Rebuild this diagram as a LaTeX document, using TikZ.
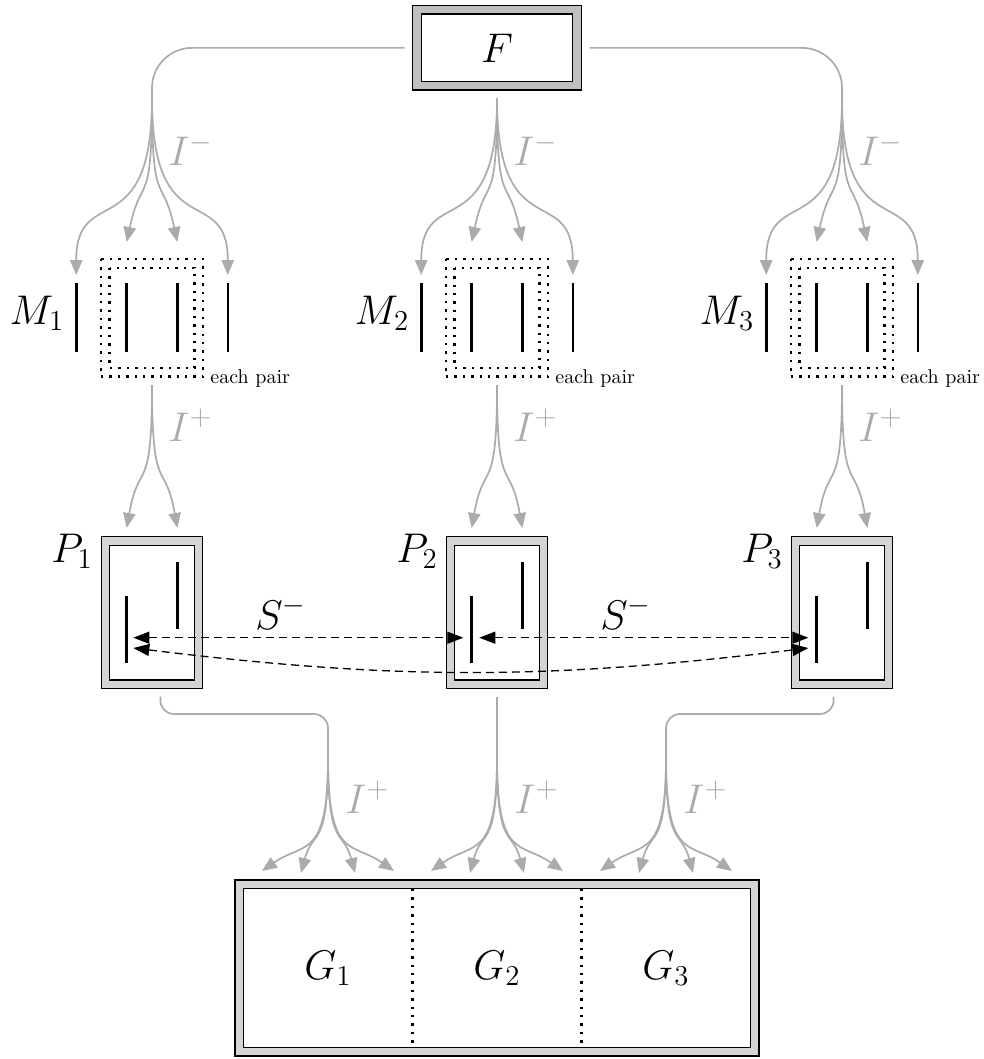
\documentclass[tikz,border=0pt]{standalone}
\usetikzlibrary{arrows.meta,calc}
\begin{document}
\begin{tikzpicture}[x=0.5pt,y=0.5pt,
  lbl/.style={inner sep=0pt, font=\huge},
  glbl/.style={lbl, text=black!33},
  gline/.style={draw=black!33, line width=0.85pt},
  garrow/.style={gline, -{Triangle[length=7.5pt,width=6.2pt]}},
  fancurve/.style={out=-90, in=#1, out looseness=2, in looseness=1.25},
  fancurve/.default=90,
  dbox/.style={draw=black, line width=0.6pt, double=#1, double distance=3.6pt, fill=white, inner sep=0pt, outer sep=0pt},
  bar/.style={line width=1.3pt},
  dotline/.style={line width=1.2pt, dash pattern=on 1.2pt off 3pt},
  darrow/.style={line width=0.65pt, dash pattern=on 4pt off 2.5pt, {Triangle[length=8pt,width=6pt]}-{Triangle[length=8pt,width=6pt]}},
]
\useasboundingbox (0,0) rectangle (984,-1059);

% ---------- F ----------
\node[dbox=black!25, minimum width=80pt, minimum height=38pt, font=\huge] (F) at (497,-47.9) {$F$};
\coordinate (t1) at (152,-98.3);
\coordinate (t2) at ([yshift=-6.25pt]F.south);
\coordinate (t3) at (842,-98.3);
\draw[gline, rounded corners=20pt] ([xshift=-6.25pt]F.west) -| (t1);
\draw[gline, rounded corners=20pt] ([xshift=6.25pt]F.east) -| (t3);

% ---------- columns ----------
\foreach \c/\i in {152/1,497/2,842/3}{
  % M bars
  \foreach \dx in {-75.8,-25.3,25.3,75.8}
    \draw[bar] (\c+\dx,-283) -- (\c+\dx,-352);
  % dotted double box
  \draw[dotline] (\c-51.2,-259) rectangle (\c+51.2,-376.5);
  \draw[dotline] (\c-42.5,-267.7) rectangle (\c+42.5,-368);
  \node[lbl, anchor=base east] (m\i) at (\c-87.5,-324) {$M_\i$};
  \node[inner sep=0pt, anchor=base west] (ep\i) at (\c+58,-383.5) {each pair};
  % I^- fan
  \coordinate (ta\i) at (\c-75.8,-275);
  \coordinate (tb\i) at (\c-25.3,-242);
  \coordinate (tc\i) at (\c+25.3,-242);
  \coordinate (td\i) at (\c+75.8,-275);
  \draw[garrow] (t\i) to[fancurve] (ta\i);
  \draw[garrow] (t\i) to[fancurve=78] (tb\i);
  \draw[garrow] (t\i) to[fancurve=102] (tc\i);
  \draw[garrow] (t\i) to[fancurve] (td\i);
  \node[glbl, anchor=base west] (im\i) at (\c+16,-166) {$I^-$};
  % I^+ fan to P
  \coordinate (u\i) at (\c,-385);
  \coordinate (ua\i) at (\c-25.3,-528);
  \coordinate (ub\i) at (\c+25.3,-528);
  \draw[garrow] (u\i) to[fancurve=80] (ua\i);
  \draw[garrow] (u\i) to[fancurve=100] (ub\i);
  \node[glbl, anchor=base west] (ip\i) at (\c+16,-441) {$I^+$};
  % P box
  \node[dbox=black!17, minimum width=46.6pt, minimum height=71.6pt] (P\i) at (\c,-612.5) {};
  \draw[bar] (\c-25.5,-596) -- (\c-25.5,-663);
  \draw[bar] (\c+25.5,-562) -- (\c+25.5,-629);
  \node[lbl, anchor=base east] (pl\i) at (\c-59,-562) {$P_\i$};
}

% ---------- S^- dashed arrows ----------
\coordinate (s1l) at (133.3,-637.7);
\coordinate (s1r) at (463.3,-637.7);
\coordinate (s2l) at (479.3,-637.7);
\coordinate (s2r) at (808.3,-637.7);
\coordinate (s3l) at (133.3,-648);
\coordinate (s3r) at (808.3,-648);
\draw[darrow] (s1l) -- (s1r);
\draw[darrow] (s2l) -- (s2r);
\draw[darrow] (s3l) to[bend right=7] (s3r);
\node[lbl, anchor=base west] (sa) at (255,-629) {$S^-$};
\node[lbl, anchor=base west] (sb) at (600,-629) {$S^-$};

% ---------- P -> G ----------
\coordinate (b1) at (328,-758);
\coordinate (b2) at (497,-758);
\coordinate (b3) at (666,-758);
\draw[gline, rounded corners=7pt] ([xshift=4.25pt,yshift=-6.25pt]P1.south) -- (160,-714) -- (328,-714) -- (b1);
\draw[gline] ([yshift=-6.25pt]P2.south) -- (b2);
\draw[gline, rounded corners=7pt] ([xshift=-4.25pt,yshift=-6.25pt]P3.south) -- (834,-714) -- (666,-714) -- (b3);

\foreach \c/\i in {328/1,497/2,666/3}{
  \coordinate (ga\i) at (\c-66,-871);
  \coordinate (gb\i) at (\c-27,-873);
  \coordinate (gc\i) at (\c+27,-873);
  \coordinate (gd\i) at (\c+66,-871);
  \draw[garrow] (b\i) to[out=-90, in=35, out looseness=2] (ga\i);
  \draw[garrow] (b\i) to[out=-90, in=75, out looseness=2] (gb\i);
  \draw[garrow] (b\i) to[out=-90, in=105, out looseness=2] (gc\i);
  \draw[garrow] (b\i) to[out=-90, in=145, out looseness=2] (gd\i);
  \node[glbl, anchor=base west] (ig\i) at (\c+17,-813) {$I^+$};
}

% ---------- G ----------
\node[dbox=black!17, minimum width=257.75pt, minimum height=83.75pt] (G) at (497,-968) {};
\draw[dotline] (412.5,-889) -- (412.5,-1047);
\draw[dotline] (581.5,-889) -- (581.5,-1047);
\node[lbl] (g1) at (328,-968) {$G_1$};
\node[lbl] (g2) at (497,-968) {$G_2$};
\node[lbl] (g3) at (666,-968) {$G_3$};
\end{tikzpicture}
\end{document}
